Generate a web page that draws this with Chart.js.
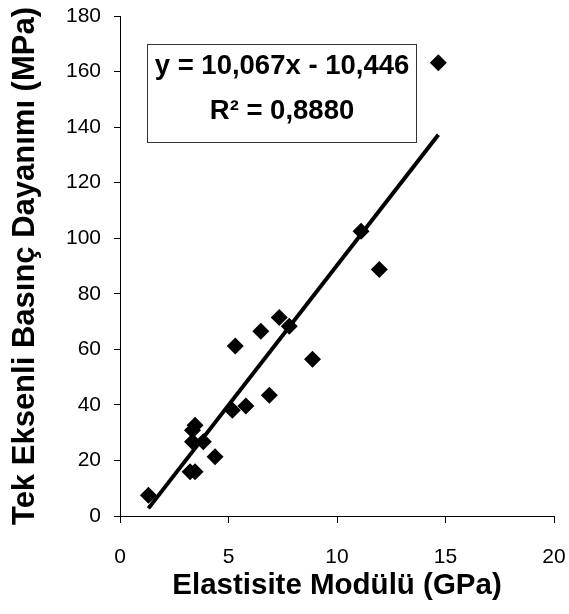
<!DOCTYPE html>
<html>
<head>
<meta charset="utf-8">
<script src="https://cdn.jsdelivr.net/npm/chart.js@4"></script>
<style>
  html, body { margin: 0; padding: 0; background: #fff; overflow: hidden; }
  #wrap { width: 569px; height: 614px; position: relative; }
</style>
</head>
<body>
<div id="wrap"><canvas id="chart"></canvas></div>
<script>
const modulus = [1.31, 3.23, 3.46, 4.38, 3.34, 3.84, 3.34, 3.46, 5.18, 5.80, 6.88, 5.31, 6.49, 7.34, 7.80, 8.87, 11.11, 11.95, 14.67];
const strength = [7.5, 15.9, 15.9, 21.3, 26.7, 26.7, 30.9, 32.7, 38.1, 39.6, 43.5, 61.2, 66.5, 71.5, 68.3, 56.4, 102.5, 88.7, 163.2];
const slope = 10.067;
const intercept = -10.446;
const eqLines = ['y = 10,067x - 10,446', 'R² = 0,8880'];

const FONT = '"Liberation Sans", Arial, sans-serif';

const points = modulus.map((x, i) => ({ x, y: strength[i] }));
const xMin = Math.min(...modulus);
const xMax = Math.max(...modulus);
const trend = [xMin, xMax].map((x) => ({ x, y: slope * x + intercept }));

// Excel-style equation label
const equationBox = {
  id: 'equationBox',
  afterDraw(chart) {
    const ctx = chart.ctx;
    ctx.save();
    ctx.fillStyle = '#fff';
    ctx.fillRect(147, 44, 269, 98);
    ctx.strokeStyle = '#333';
    ctx.lineWidth = 1;
    ctx.strokeRect(147.5, 44.5, 269, 98);
    ctx.fillStyle = '#000';
    ctx.font = `bold 27.5px ${FONT}`;
    ctx.textAlign = 'center';
    ctx.textBaseline = 'middle';
    ctx.fillText(eqLines[0], 282, 66);
    ctx.fillText(eqLines[1], 282, 111);
    ctx.restore();
  },
};

const axisCommon = {
  grid: { display: true, drawOnChartArea: false, drawTicks: true, color: '#000' },
  border: { display: true, color: '#000', width: 1 },
};

new Chart(document.getElementById('chart'), {
  type: 'scatter',
  data: {
    datasets: [
      {
        type: 'line',
        data: trend,
        borderColor: '#000',
        borderWidth: 4,
        pointRadius: 0,
        fill: false,
      },
      {
        data: points,
        pointStyle: 'rectRot',
        pointRadius: 8.5,
        pointHoverRadius: 8.5,
        backgroundColor: '#000',
        borderColor: '#000',
        borderWidth: 0,
      },
    ],
  },
  plugins: [equationBox],
  options: {
    responsive: true,
    maintainAspectRatio: false,
    animation: false,
    layout: { padding: { top: 16, right: 15, left: 0, bottom: 0 } },
    plugins: { legend: { display: false }, tooltip: { enabled: false } },
    scales: {
      x: {
        ...axisCommon,
        grid: { ...axisCommon.grid, tickLength: 7 },
        min: 0,
        max: 20,
        ticks: { stepSize: 5, color: '#000', padding: 22, font: { family: FONT, size: 21 } },
        title: {
          display: true,
          text: 'Elastisite Modülü (GPa)',
          color: '#000',
          font: { family: FONT, size: 29.5, weight: 'bold' },
          padding: { top: 0, bottom: 10 },
        },
        afterFit(scale) {
          scale.height = 98;
          scale.paddingLeft = 0;
          scale.paddingRight = 0;
        },
      },
      y: {
        ...axisCommon,
        grid: { ...axisCommon.grid, tickLength: 6 },
        min: 0,
        max: 180,
        ticks: { stepSize: 20, color: '#000', padding: 13, font: { family: FONT, size: 21 } },
        title: {
          display: true,
          text: 'Tek Eksenli Basınç Dayanımı (MPa)',
          color: '#000',
          font: { family: FONT, size: 31, weight: 'bold' },
          padding: { top: 7, bottom: 0 },
        },
        afterFit(scale) {
          scale.width = 120;
          scale.paddingTop = 0;
          scale.paddingBottom = 0;
        },
      },
    },
  },
});
</script>
</body>
</html>
